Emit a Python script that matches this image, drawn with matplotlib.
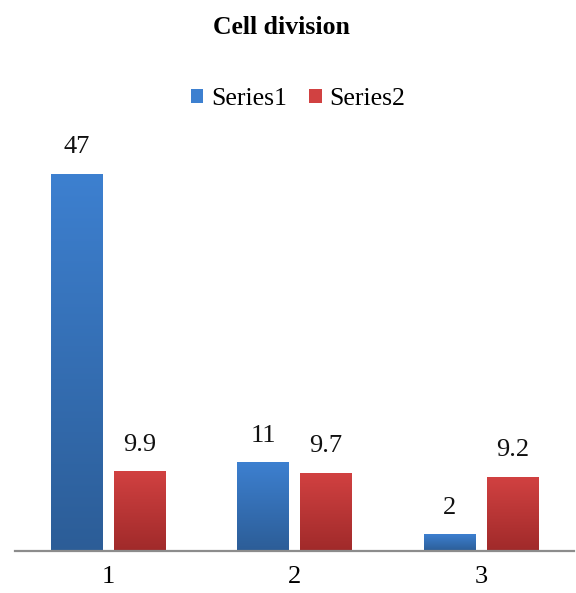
import numpy as np
import matplotlib.pyplot as plt
from matplotlib.colors import LinearSegmentedColormap
from matplotlib.patches import Rectangle

plt.rcParams['font.family'] = ['Liberation Serif', 'DejaVu Serif']

categories = ['1', '2', '3']
series_names = ['Series1', 'Series2']
series1 = [47, 11, 2]
series2 = [9.9, 9.7, 9.2]

# top / bottom shades for each series' vertical gradient
shades = {
    'Series1': ('#3d80d0', '#2c5d97'),
    'Series2': ('#d14141', '#a02a2a'),
}

fig = plt.figure(figsize=(5.76, 5.93), dpi=100)
ax = fig.add_axes([15 / 576, 1 - 550.5 / 593, 559 / 576, 401 / 593])

x = np.arange(len(categories))
width = 0.274
offset = 0.169
ymax = 50

grad = np.linspace(0, 1, 256).reshape(-1, 1)

for name, vals, dx in [('Series1', series1, -offset), ('Series2', series2, offset)]:
    top, bottom = shades[name]
    cmap = LinearSegmentedColormap.from_list(name, [bottom, top])
    bars = ax.bar(x + dx, vals, width, color='none', edgecolor='none', label=name)
    for rect, v in zip(bars, vals):
        x0 = rect.get_x()
        im = ax.imshow(grad, cmap=cmap, origin='lower', aspect='auto',
                       extent=[x0, x0 + width, 0, v], zorder=2)
        im.set_clip_path(rect)
        ax.text(x0 + width / 2, v + 1.9, f'{v:g}', ha='center', va='bottom',
                fontsize=19, color='#111111')

ax.set_xlim(-0.5, len(categories) - 0.5)
ax.set_ylim(0, ymax)
ax.set_xticks(x)
ax.set_xticklabels(categories, fontsize=19)
ax.tick_params(axis='x', length=0, pad=11)
ax.set_yticks([])
for s in ['top', 'right', 'left']:
    ax.spines[s].set_visible(False)
ax.spines['bottom'].set_color('#8c8c8c')
ax.spines['bottom'].set_linewidth(1.6)
ax.spines['bottom'].set_zorder(3)

handles = [Rectangle((0, 0), 1, 1, facecolor=shades[n][0], edgecolor='none')
           for n in series_names]
fig.legend(handles, series_names, loc='center', bbox_to_anchor=(298 / 576, 1 - 99 / 593),
           ncol=2, frameon=False, fontsize=18.5, handlelength=0.5, handleheight=0.5,
           handletextpad=0.3, columnspacing=0.85)

fig.text(281 / 576, 1 - 27 / 593, 'Cell division', ha='center', va='center',
         fontsize=18.5, fontweight='bold')

fig.savefig('out.png', dpi=100)
